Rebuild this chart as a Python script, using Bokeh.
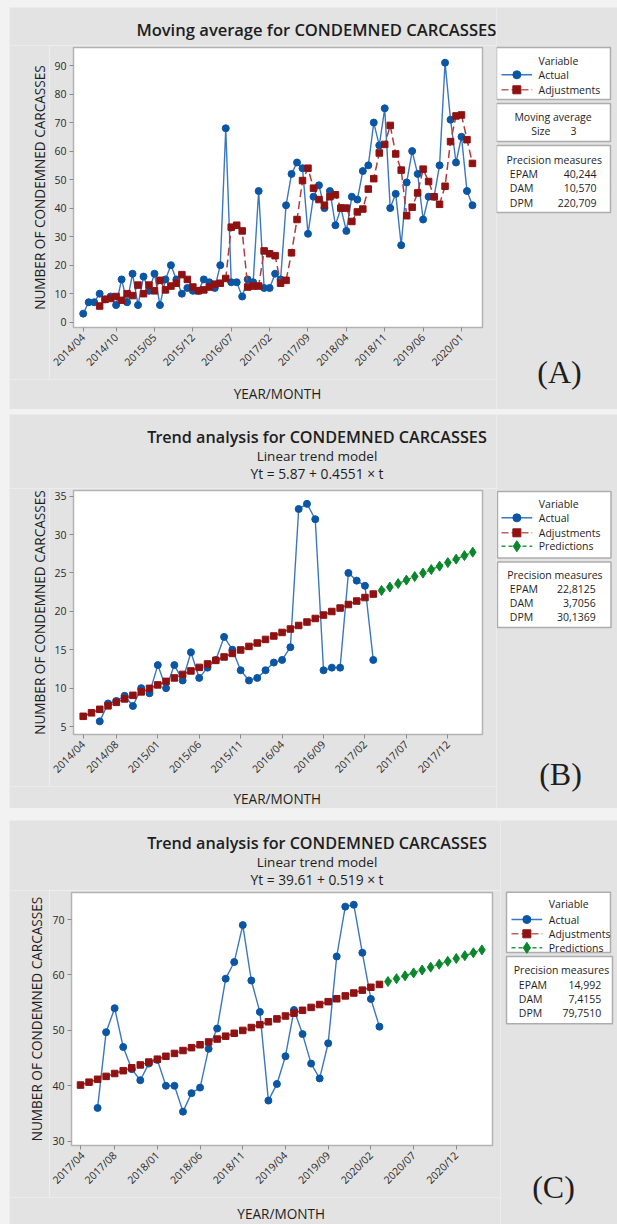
import math
from bokeh.plotting import figure
from bokeh.models import Range1d, FixedTicker
from bokeh.layouts import row, column
from bokeh.core.properties import value
from bokeh.embed import file_html
from bokeh.resources import INLINE

# ------------------------- DATA -------------------------
# Panel A : moving average (size 3)
a_month = list(range(1, 73))
a_actual = [3, 7, 7, 10, 8, 9, 6, 15, 7, 17, 6, 16, 11, 17, 6, 15, 20, 15, 10, 12,
            11, 11, 15, 14, 12, 20, 68, 14, 14, 9, 15, 14, 46, 12, 12, 17, 15, 41, 52, 56,
            54, 31, 44, 48, 40, 46, 34, 40, 32, 44, 43, 53, 55, 70, 62, 75, 40, 45, 27, 49,
            60, 52, 36, 44, 44, 55, 91, 71, 56, 65, 46, 41]
a_fit_month = list(range(4, 73))
a_fit = [5.67, 8.0, 8.33, 9.0, 7.67, 10.0, 9.33, 13.0, 10.0, 13.0,
         11.0, 14.67, 11.33, 12.67, 13.67, 16.67, 15.0, 12.33, 11.0, 11.33,
         12.33, 13.33, 13.67, 15.33, 33.33, 34.0, 32.0, 12.33, 12.67, 12.67,
         25.0, 24.0, 23.33, 13.67, 14.67, 24.33, 36.0, 49.67, 54.0, 47.0,
         43.0, 41.0, 44.0, 44.67, 40.0, 40.0, 35.33, 38.67, 39.67, 46.67,
         50.33, 59.33, 62.33, 69.0, 59.0, 53.33, 37.33, 40.33, 45.33, 53.67,
         49.33, 44.0, 41.33, 47.67, 63.33, 72.33, 72.67, 64.0, 55.67]
a_tick_pos = [1, 7, 14, 21, 28, 35, 42, 49, 56, 63, 70]
a_tick_lab = ["2014/04", "2014/10", "2015/05", "2015/12", "2016/07", "2017/02",
              "2017/09", "2018/04", "2018/11", "2019/06", "2020/01"]
a_yticks = [0, 10, 20, 30, 40, 50, 60, 70, 80, 90]

# Panel B : linear trend
b_actual_t = list(range(3, 37))
b_actual = [5.67, 8.0, 8.33, 9.0, 7.67, 10.0, 9.33, 13.0, 10.0, 13.0,
            11.0, 14.67, 11.33, 12.67, 13.67, 16.67, 15.0, 12.33, 11.0, 11.33,
            12.33, 13.33, 13.67, 15.33, 33.33, 34.0, 32.0, 12.33, 12.67, 12.67,
            25.0, 24.0, 23.33, 13.67]
b_fit_t = list(range(1, 37))
b_fit = [6.33, 6.78, 7.24, 7.69, 8.15, 8.60, 9.06, 9.51, 9.97, 10.42,
         10.88, 11.33, 11.79, 12.24, 12.70, 13.15, 13.61, 14.06, 14.52, 14.97,
         15.43, 15.88, 16.34, 16.79, 17.25, 17.70, 18.16, 18.61, 19.07, 19.52,
         19.98, 20.43, 20.89, 21.34, 21.80, 22.25]
b_pred_t = list(range(37, 49))
b_pred = [22.71, 23.16, 23.62, 24.07, 24.53, 24.98, 25.44, 25.89, 26.35, 26.80, 27.26, 27.71]
b_tick_pos = [1, 5, 10, 15, 20, 25, 30, 35, 40, 45]
b_tick_lab = ["2014/04", "2014/08", "2015/01", "2015/06", "2015/11", "2016/04",
              "2016/09", "2017/02", "2017/07", "2017/12"]
b_yticks = [5, 10, 15, 20, 25, 30, 35]

# Panel C : linear trend
c_actual_t = list(range(3, 37))
c_actual = [36.0, 49.67, 54.0, 47.0, 43.0, 41.0, 44.0, 44.67, 40.0, 40.0,
            35.33, 38.67, 39.67, 46.67, 50.33, 59.33, 62.33, 69.0, 59.0, 53.33,
            37.33, 40.33, 45.33, 53.67, 49.33, 44.0, 41.33, 47.67, 63.33, 72.33,
            72.67, 64.0, 55.67, 50.67]
c_fit_t = list(range(1, 37))
c_fit = [40.13, 40.65, 41.17, 41.69, 42.21, 42.72, 43.24, 43.76, 44.28, 44.80,
         45.32, 45.84, 46.36, 46.88, 47.40, 47.91, 48.43, 48.95, 49.47, 49.99,
         50.51, 51.03, 51.55, 52.07, 52.59, 53.10, 53.62, 54.14, 54.66, 55.18,
         55.70, 56.22, 56.74, 57.26, 57.78, 58.29]
c_pred_t = list(range(37, 49))
c_pred = [58.81, 59.33, 59.85, 60.37, 60.89, 61.41, 61.93, 62.45, 62.97, 63.48, 64.00, 64.52]
c_tick_pos = [1, 5, 10, 15, 20, 25, 30, 35, 40, 45]
c_tick_lab = ["2017/04", "2017/08", "2018/01", "2018/06", "2018/11", "2019/04",
              "2019/09", "2020/02", "2020/07", "2020/12"]
c_yticks = [30, 40, 50, 60, 70]

# ------------------------- STYLE -------------------------
GREY = "#e3e3e3"
FRAME = "#b3b3b3"
FONT = "Open Sans"
SEMI = "'Open Sans SemiBold', 'Open Sans'"
TXT = "#1e1e1e"
BLUE_L = "#3b77c0"
BLUE_M = "#0b56a4"
RED_L = "#b03c3c"
RED_M = "#8f1212"
GRN_L = "#2a9a46"
GRN_M = "#0a872a"


def make_main(W, H, fl, ft, fw, fh, xr, yr, tpos, tlab, yticks):
    p = figure(width=W, height=H, x_range=Range1d(*xr), y_range=Range1d(*yr),
               output_backend="svg", toolbar_location=None, title=None,
               min_border_left=fl, min_border_top=ft,
               min_border_right=W - fl - fw, min_border_bottom=H - ft - fh,
               frame_align=False)
    p.background_fill_color = "white"
    p.border_fill_color = GREY
    p.outline_line_color = FRAME
    p.outline_line_width = 1.5
    p.xgrid.visible = False
    p.ygrid.visible = False
    p.xaxis.ticker = FixedTicker(ticks=tpos)
    p.xaxis.major_label_overrides = {k: v for k, v in zip(tpos, tlab)}
    p.xaxis.major_label_orientation = math.pi / 4
    p.yaxis.ticker = FixedTicker(ticks=yticks)
    p.axis.axis_line_color = None
    p.axis.major_tick_in = 0
    p.axis.major_tick_out = 4
    p.axis.major_tick_line_color = "#8a8a8a"
    p.axis.minor_tick_line_color = None
    p.axis.major_label_text_font = FONT
    p.axis.major_label_text_font_size = "10.5px"
    p.axis.major_label_text_color = "#2a2a2a"
    p.yaxis.major_label_standoff = 3
    p.xaxis.major_label_standoff = 4
    return p


def pix_fig(W, H):
    s = figure(width=W, height=H, x_range=Range1d(0, W), y_range=Range1d(H, 0),
               output_backend="svg", toolbar_location=None, title=None,
               x_axis_location=None, y_axis_location=None, min_border=0,
               frame_align=False)
    s.background_fill_color = GREY
    s.border_fill_color = GREY
    s.outline_line_color = None
    s.xgrid.visible = False
    s.ygrid.visible = False
    return s


def ptext(s, xs, ys, texts, align="left", size="10.5px", font=FONT, angle=0.0):
    s.text(x=xs, y=ys, text=texts, text_font=value(font), text_font_size=value(size),
           text_align=align, text_baseline="middle", text_color=TXT, angle=angle)


def side_box(s, l, r, t, b):
    s.quad(left=[l], right=[r], top=[t], bottom=[b], fill_color="white",
           line_color="#adadad", line_width=1.5)


def swatch(s, x0, x1, y, kind):
    xm = (x0 + x1) / 2
    if kind == "actual":
        s.line([x0, x1], [y, y], line_color=BLUE_L, line_width=1.5)
        s.scatter([xm], [y], marker="circle", size=8, color=BLUE_M)
    elif kind == "fit":
        s.line([x0, x1], [y, y], line_color="#c06060", line_width=1.5, line_dash="7 3")
        s.scatter([xm], [y], marker="square", size=8, color=RED_M)
    else:
        s.line([x0, x1], [y, y], line_color=GRN_L, line_width=1.5, line_dash="4 3")
        s.scatter([xm], [y], marker="diamond", size=11, color=GRN_M)


def build_panel(H, left_w, side_w, T, fl_main, fw, fh, bb, xr, yr, tpos, tlab, yticks,
                titles, ylab_cx, xlab_cx, xlab_cy):
    # titles: list of (cx, cy, text, size, font) in panel-local coordinates
    tf = pix_fig(left_w, T)
    for (cx, cy, txt, sz, fnt) in titles:
        ptext(tf, [cx], [cy], [txt], align="center", size=sz, font=fnt)
    main_h = 2 + fh + bb
    ylab_w = 40
    main_w = left_w - ylab_w
    p = make_main(main_w, main_h, fl_main - ylab_w, 2, fw, fh, xr, yr, tpos, tlab, yticks)
    yf = pix_fig(ylab_w, main_h)
    ptext(yf, [ylab_cx], [2 + fh / 2], ["NUMBER OF CONDEMNED CARCASSES"], align="center",
          size="13.6px", angle=math.pi / 2)
    xh = H - T - main_h
    xf = pix_fig(left_w, xh)
    ptext(xf, [xlab_cx], [xlab_cy - T - main_h], ["YEAR/MONTH"], align="center",
          size="13.6px")
    left = column(tf, row(yf, p), xf)
    side = pix_fig(side_w, H)
    return p, left, side


# ------------------------- PANEL A -------------------------
pA, leftA, sA = build_panel(402, 487, 121, 38, 64, 409, 280, 52,
                            (-0.77, 73.83), (-1.86, 96.32), a_tick_pos, a_tick_lab, a_yticks,
                            [(307, 22.3, "Moving average for CONDEMNED CARCASSES", "16.6px", SEMI)],
                            29.7, 268, 386)
pA.line(a_month, a_actual, line_color=BLUE_L, line_width=1.4)
pA.scatter(a_month, a_actual, marker="circle", size=7, color=BLUE_M)
pA.line(a_fit_month, a_fit, line_color=RED_L, line_width=1.5, line_dash="8 4")
pA.scatter(a_fit_month, a_fit, marker="square", size=6.5, color=RED_M)

side_box(sA, 0, 114, 40, 92)
side_box(sA, 0, 114, 96, 134)
side_box(sA, 0, 114, 138, 205)
ptext(sA, [42, 42, 42], [53, 67.3, 82.3], ["Variable", "Actual", "Adjustments"])
swatch(sA, 5, 35.7, 67.3, "actual")
swatch(sA, 5, 35.7, 82.3, "fit")
ptext(sA, [56.5], [109.7], ["Moving average"], align="center")
ptext(sA, [34.7, 74], [123.7, 123.7], ["Size", "3"])
ptext(sA, [10, 13.3, 13.3, 13.3], [152, 166.3, 180.7, 195.3],
      ["Precision measures", "EPAM", "DAM", "DPM"])
ptext(sA, [100, 100, 100], [166.3, 180.7, 195.3], ["40,244", "10,570", "220,709"], align="right")
ptext(sA, [63], [364.7], ["(A)"], align="center", size="32px", font="Liberation Serif")

# ------------------------- PANEL B -------------------------
pB, leftB, sB = build_panel(394, 487, 121, 74, 64, 409, 244, 52,
                            (-0.17, 49.18), (3.96, 35.74), b_tick_pos, b_tick_lab, b_yticks,
                            [(307.5, 22, "Trend analysis for CONDEMNED CARCASSES", "16.2px", SEMI),
                             (307.5, 41, "Linear trend model", "13.5px", FONT),
                             (307.5, 58.7, "Yt = 5.87 + 0.4551 \u00d7 t", "13.8px", FONT)],
                            29.7, 267.8, 384.3)
pB.line(b_actual_t, b_actual, line_color=BLUE_L, line_width=1.4)
pB.scatter(b_actual_t, b_actual, marker="circle", size=7, color=BLUE_M)
pB.line(b_fit_t, b_fit, line_color=RED_L, line_width=1.5, line_dash="8 4")
pB.scatter(b_fit_t, b_fit, marker="square", size=6.5, color=RED_M)
pB.line(b_pred_t, b_pred, line_color=GRN_L, line_width=1.5, line_dash="4 3")
pB.scatter(b_pred_t, b_pred, marker="diamond", size=10, color=GRN_M)

side_box(sB, 1, 114.5, 77, 143.5)
side_box(sB, 1, 114.5, 147.5, 213)
ptext(sB, [42.3] * 4, [89.3, 103.3, 118.3, 131.7],
      ["Variable", "Actual", "Adjustments", "Predictions"])
swatch(sB, 5, 35.7, 103.3, "actual")
swatch(sB, 5, 35.7, 118.3, "fit")
swatch(sB, 5, 35.7, 131.7, "pred")
ptext(sB, [10.7, 13.3, 13.3, 13.3], [160, 174.3, 188.7, 202.7],
      ["Precision measures", "EPAM", "DAM", "DPM"])
ptext(sB, [99.3] * 3, [174.3, 188.7, 202.7], ["22,8125", "3,7056", "30,1369"], align="right")
ptext(sB, [64], [359.3], ["(B)"], align="center", size="32px", font="Liberation Serif")

# ------------------------- PANEL C -------------------------
pC, leftC, sC = build_panel(404, 491, 117, 70, 62, 421, 253, 52,
                            (-0.054, 49.24), (29.22, 74.88), c_tick_pos, c_tick_lab, c_yticks,
                            [(307.5, 22.3, "Trend analysis for CONDEMNED CARCASSES", "16.2px", SEMI),
                             (307.5, 41, "Linear trend model", "13.5px", FONT),
                             (307.5, 59.3, "Yt = 39.61 + 0.519 \u00d7 t", "13.8px", FONT)],
                            27, 271.7, 392.7)
pC.line(c_actual_t, c_actual, line_color=BLUE_L, line_width=1.4)
pC.scatter(c_actual_t, c_actual, marker="circle", size=7, color=BLUE_M)
pC.line(c_fit_t, c_fit, line_color=RED_L, line_width=1.5, line_dash="8 4")
pC.scatter(c_fit_t, c_fit, marker="square", size=6.5, color=RED_M)
pC.line(c_pred_t, c_pred, line_color=GRN_L, line_width=1.5, line_dash="4 3")
pC.scatter(c_pred_t, c_pred, marker="diamond", size=10, color=GRN_M)

side_box(sC, 6, 110, 71.7, 132)
side_box(sC, 6, 112, 136, 203.3)
ptext(sC, [48.3] * 4, [83.3, 99, 113.3, 127.3],
      ["Variable", "Actual", "Adjustments", "Predictions"])
swatch(sC, 11, 41.7, 99, "actual")
swatch(sC, 11, 41.7, 113.3, "fit")
swatch(sC, 11, 41.7, 127.3, "pred")
ptext(sC, [13.3, 18.3, 18.3, 18.3], [149.3, 164.3, 178.3, 192.7],
      ["Precision measures", "EPAM", "DAM", "DPM"])
ptext(sC, [100.7] * 3, [164.3, 178.3, 192.7], ["14,992", "7,4155", "79,7510"], align="right")
ptext(sC, [53], [366.7], ["(C)"], align="center", size="32px", font="Liberation Serif")

# ------------------------- LAYOUT -------------------------
rowA = row(leftA, sA, margin=(7, 0, 0, 9))
rowB = row(leftB, sB, margin=(5, 0, 0, 9))
rowC = row(leftC, sC, margin=(12, 0, 0, 9))
page = column(rowA, rowB, rowC, styles={"background-color": "#f2f2f2"})

open("out.html", "w").write(file_html(page, INLINE))
